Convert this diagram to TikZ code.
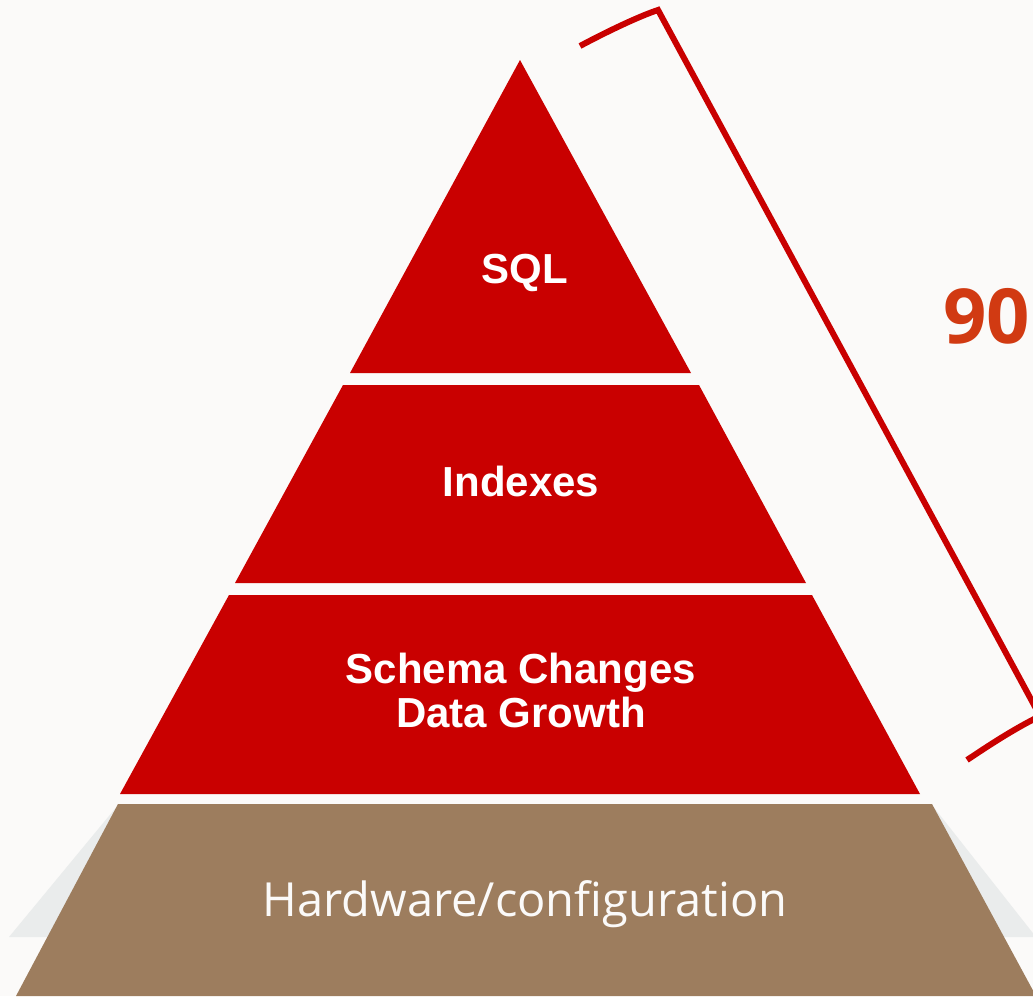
\documentclass[tikz,border=0pt]{standalone}
\usepackage{fontspec}
\setmainfont{Liberation Sans}
\newfontfamily\basefont{Open Sans}
\definecolor{pagebg}{HTML}{FBFAF9}
\definecolor{tierred}{HTML}{C90000}
\definecolor{basebrown}{HTML}{9D7D5E}
\definecolor{shadowgray}{HTML}{EAECEC}
\definecolor{pctorange}{HTML}{D13A12}
\begin{document}
\begin{tikzpicture}[x=1pt,y=-1pt,
  tier/.style={fill=tierred},
  tiertext/.style={text=white,font=\fontsize{42}{44}\selectfont\bfseries,inner sep=0pt,anchor=base},
  basetext/.style={text=white!96!basebrown,font=\basefont\fontsize{47}{50}\selectfont,inner sep=0pt,anchor=base},
  bracket/.style={draw=tierred,line width=6pt,line join=miter},
  pct/.style={text=pctorange,font=\basefont\bfseries\fontsize{76}{80}\selectfont,inner sep=0pt,anchor=base west}]
\useasboundingbox (0,0) rectangle (1033,996);
\fill[pagebg] (0,0) rectangle (1033,996);
\clip (0,0) rectangle (1033,996);

% soft shadow behind the base layer
\fill[shadowgray] (118,805) -- (932,805) -- (1036,937) -- (9,937) -- cycle;
% base layer
\fill[basebrown] (118,804) -- (932,804) -- (1036,996) -- (16,996) -- cycle;

% red tiers
\fill[tier] (520,60) -- (691,373) -- (350,373) -- cycle;
\fill[tier] (343,385) -- (699,385) -- (806,583) -- (235,583) -- cycle;
\fill[tier] (229,595) -- (812,595) -- (920,794) -- (120,794) -- cycle;

% labels
\node[tiertext] (sql) at (525,283) {SQL};
\node[tiertext] (idx) at (521,496) {Indexes};
\node[tiertext] (schema) at (521,683) {Schema Changes};
\node[tiertext] (growth) at (521,727) {Data Growth};
\node[basetext] (hw) at (525,916) {Hardware/configuration};

% bracket over the upper tiers
\coordinate (bt) at (580,46);
\coordinate (bc1) at (658,10);
\coordinate (bc2) at (1040,716);
\coordinate (bb) at (967,760);
\draw[bracket] (bt) .. controls (610,30) and (640,16) .. (bc1) -- (bc2) .. controls (1012,730) and (988,746) .. (bb);

\node[pct] (share) at (943,343) {90};
\end{tikzpicture}
\end{document}
